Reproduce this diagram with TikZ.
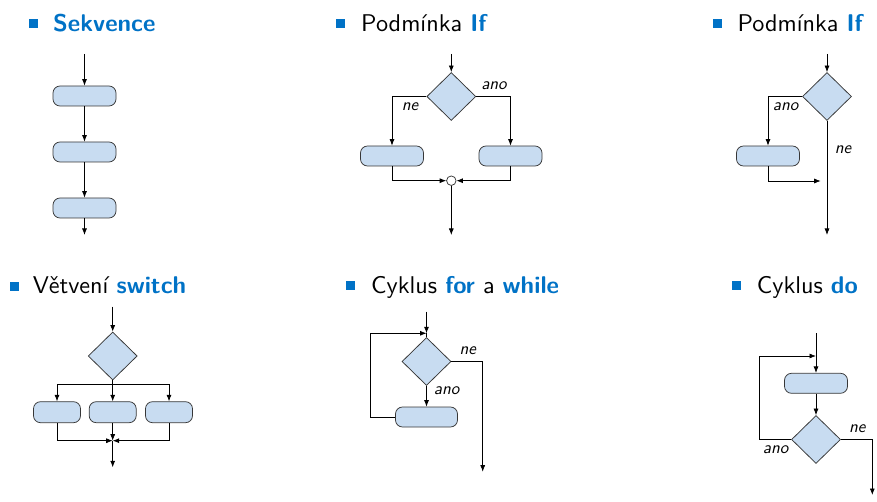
\documentclass[tikz,border=0pt]{standalone}
\usetikzlibrary{shapes.geometric,arrows.meta}
\definecolor{bblue}{RGB}{0,114,198}
\definecolor{boxfill}{RGB}{200,220,241}
\definecolor{boxline}{RGB}{55,55,55}
\newcommand{\ttltext}[1]{\scalebox{2.42}{\fontsize{10}{12}\selectfont\sffamily #1}}
\newcommand{\lbltext}[1]{\scalebox{1.7}{\fontsize{10}{12}\selectfont\sffamily\itshape #1}}
\newcommand{\hlw}[1]{{\bfseries\color{bblue}#1}}
\begin{document}
\begin{tikzpicture}[x=1pt,y=-1pt,font=\sffamily,
  blk/.style={draw=boxline,fill=boxfill,rounded corners=7pt,minimum width=63pt,minimum height=20pt,inner sep=0pt,line width=0.75pt},
  dec/.style={draw=boxline,fill=boxfill,diamond,minimum width=49pt,minimum height=48pt,inner sep=0pt,line width=0.75pt},
  flow/.style={line width=0.75pt,-{Latex[length=6.5pt,width=5pt]}},
  plain/.style={line width=0.75pt},
  lbl/.style={inner sep=0pt},
  ttl/.style={anchor=base west,inner sep=0pt},
  bul/.style={fill=bblue,minimum size=9pt,inner sep=0pt}]
\useasboundingbox (0,0) rectangle (877,502);

% titles
\node[bul] (t1b) at (33.5,23.8) {};
\node[ttl] (t1) at (53,32) {\ttltext{\hlw{Sekvence}}};
\node[bul] (t2b) at (340.5,23.8) {};
\node[ttl] (t2) at (361,32) {\ttltext{Podmínka \hlw{If}}};
\node[bul] (t3b) at (717.2,23.8) {};
\node[ttl] (t3) at (737.3,32) {\ttltext{Podmínka \hlw{If}}};
\node[bul] (t4b) at (14.2,286.3) {};
\node[ttl] (t4) at (32.7,294) {\ttltext{Větvení \hlw{switch}}};
\node[bul] (t5b) at (350.5,286) {};
\node[ttl] (t5) at (371,294) {\ttltext{Cyklus \hlw{for} a \hlw{while}}};
\node[bul] (t6b) at (736.7,286) {};
\node[ttl] (t6) at (756.7,294) {\ttltext{Cyklus \hlw{do}}};

% panel 1: sequence
\coordinate (s0) at (84.5,54);
\node[blk] (s1) at (84.5,96) {};
\node[blk] (s2) at (84.5,152) {};
\node[blk] (s3) at (84.5,208) {};
\coordinate (s4) at (84.5,235);
\draw[flow] (s0) -- (s1);
\draw[flow] (s1) -- (s2);
\draw[flow] (s2) -- (s3);
\draw[flow] (s3) -- (s4);

% panel 2: if-else
\coordinate (a0) at (451.3,54);
\node[dec] (ad) at (451.3,96.5) {};
\node[blk] (al) at (392,156) {};
\node[blk] (ar) at (510.5,156) {};
\node[circle,draw=boxline,fill=white,minimum size=9.5pt,inner sep=0pt,line width=0.75pt] (aj) at (451.3,180.7) {};
\coordinate (a5) at (451.3,235);
\draw[flow] (a0) -- (ad);
\draw[flow] (ad.west) -| (al);
\draw[flow] (ad.east) -| (ar);
\draw[flow] (al) |- (aj);
\draw[flow] (ar) |- (aj);
\draw[flow] (aj) -- (a5);
\node[lbl] (a_ano) at (494,86) {\lbltext{ano}};
\node[lbl] (a_ne) at (410,107) {\lbltext{ne}};

% panel 3: if
\coordinate (b0) at (827,54);
\node[dec] (bd) at (827,96.5) {};
\node[blk] (bl) at (768,156) {};
\coordinate (bj) at (820.7,181);
\coordinate (b5) at (827,235);
\draw[flow] (b0) -- (bd);
\draw[flow] (bd.west) -| (bl);
\draw[flow] (bl) |- (bj);
\draw[flow] (bd) -- (b5);
\node[lbl] (b_ano) at (785.7,106.7) {\lbltext{ano}};
\node[lbl] (b_ne) at (843,150) {\lbltext{ne}};

% panel 4: switch
\coordinate (c0) at (112.7,306.7);
\node[dec] (cd) at (112.7,356) {};
\coordinate (cb) at (112.7,384.3);
\node[blk,minimum width=47pt,minimum height=21pt] (c1) at (57,412.2) {};
\node[blk,minimum width=47pt,minimum height=21pt] (c2) at (112.7,412.2) {};
\node[blk,minimum width=47pt,minimum height=21pt] (c3) at (169,412.2) {};
\coordinate (cj) at (112.7,440.7);
\coordinate (c5) at (112.7,467.3);
\draw[flow] (c0) -- (cd);
\draw[plain] (cd) -- (cb);
\draw[flow] (cb) -| (c1);
\draw[flow] (cb) -- (c2);
\draw[flow] (cb) -| (c3);
\draw[flow] (c1) |- (cj);
\draw[flow] (c3) |- (cj);
\draw[flow] (c2) -- (cj);
\draw[flow] (cj) -- (c5);

% panel 5: for / while
\coordinate (d0) at (426.5,311.7);
\coordinate (dj) at (426.5,333.3);
\node[dec] (dd) at (426.5,361.5) {};
\node[blk,minimum width=62pt] (db) at (426.5,417) {};
\coordinate (dk) at (370,333.3);
\coordinate (d5) at (482.7,471.7);
\draw[flow] (d0) -- (dj);
\draw[plain] (dj) -- (dd);
\draw[flow] (dd) -- (db);
\draw[flow] (db.west) -| (dk) -- (dj);
\draw[flow] (dd.east) -| (d5);
\node[lbl] (d_ne) at (467.7,350.7) {\lbltext{ne}};
\node[lbl] (d_ano) at (446.7,390.7) {\lbltext{ano}};

% panel 6: do-while
\coordinate (e0) at (816,333.3);
\coordinate (ej) at (816,356);
\node[blk] (eb) at (816,383.3) {};
\node[dec] (ed) at (816,439.5) {};
\coordinate (ek) at (759.3,356);
\coordinate (e5) at (872.3,495);
\draw[flow] (e0) -- (eb);
\draw[flow] (eb) -- (ed);
\draw[flow] (ed.west) -| (ek) -- (ej);
\draw[flow] (ed.east) -| (e5);
\node[lbl] (e_ne) at (857.3,429) {\lbltext{ne}};
\node[lbl] (e_ano) at (775.7,450) {\lbltext{ano}};
\end{tikzpicture}
\end{document}
